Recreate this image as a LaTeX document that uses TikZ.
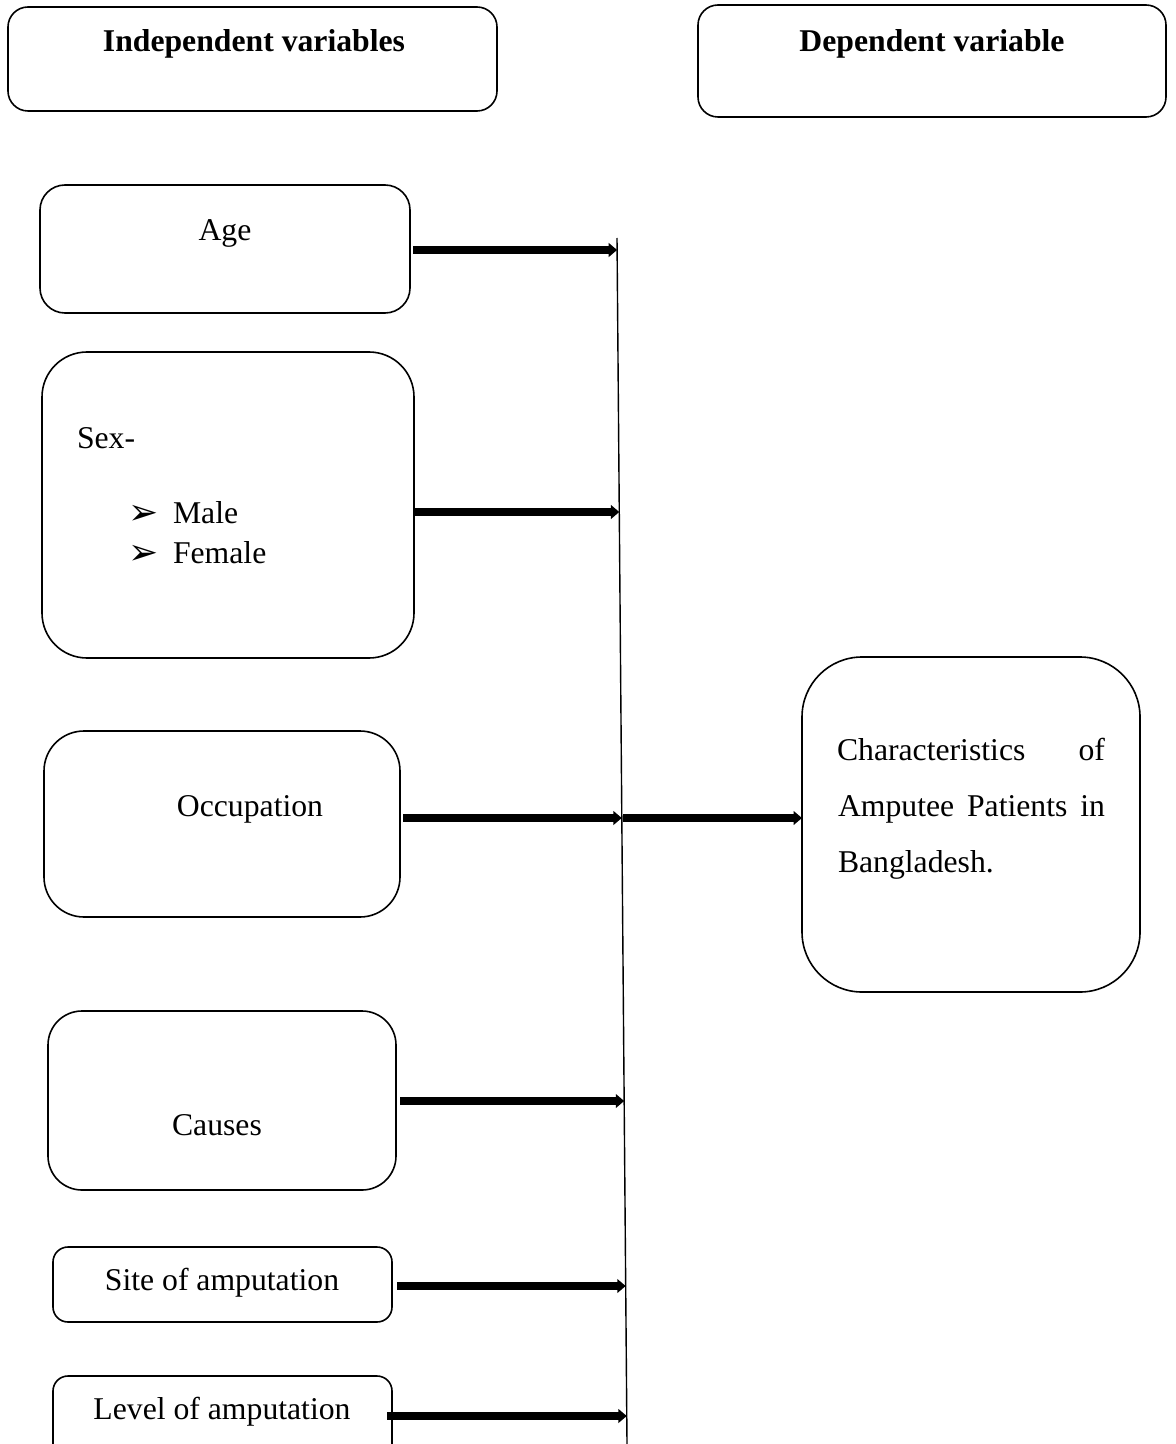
\documentclass[tikz,border=0pt]{standalone}
\usepackage{fontspec}
\setmainfont{Liberation Serif}
\newfontfamily\dingfont{DejaVu Sans}
\usetikzlibrary{arrows.meta}
\tikzset{
  vbox/.style={draw, line width=0.8pt, rectangle, inner sep=0pt, outer sep=0pt},
  txt/.style={inner sep=0pt, outer sep=0pt, anchor=base, font=\fontsize{15.85}{28}\selectfont},
  ltxt/.style={txt, anchor=base west},
  thick arrow/.style={line width=3.6pt, -{Triangle[length=4.2pt,width=6.8pt]}},
  axis line/.style={line width=0.7pt}
}
\begin{document}
\begin{tikzpicture}[x=0.5pt,y=-0.5pt]
\useasboundingbox (0,0) rectangle (1176,1444);
\clip (0,0) rectangle (1176,1444);
% header boxes
\node[vbox, rounded corners=10pt, minimum width=244.5pt, minimum height=52pt] (indep) at (252.5,59) {};
\node[vbox, rounded corners=10pt, minimum width=234pt, minimum height=56pt] (dep) at (932,61) {};
\node[txt, font=\fontsize{15.85}{28}\selectfont\bfseries] (indept) at (254,52) {Independent variables};
\node[txt, font=\fontsize{15.85}{28}\selectfont\bfseries] (dept) at (932,52) {Dependent variable};
% variable boxes
\node[vbox, rounded corners=12.5pt, minimum width=185pt, minimum height=64pt] (age) at (225,249) {};
\node[vbox, rounded corners=22.5pt, minimum width=186pt, minimum height=153pt] (sex) at (228,505) {};
\node[vbox, rounded corners=20pt, minimum width=178pt, minimum height=93pt] (occ) at (222,824) {};
\node[vbox, rounded corners=30pt, minimum width=169pt, minimum height=167.5pt] (char) at (971,824.5) {};
\node[vbox, rounded corners=17pt, minimum width=174pt, minimum height=89.5pt] (cause) at (222,1100.5) {};
\node[vbox, rounded corners=7.5pt, minimum width=169.5pt, minimum height=37.5pt] (site) at (222.5,1284.5) {};
\node[vbox, rounded corners=7.5pt, minimum width=169.5pt, minimum height=42pt] (level) at (222.5,1418) {};
% texts
\node[txt] (aget) at (225,241) {Age};
\node[ltxt] (sext) at (77,448) {Sex-};
\node[ltxt] (b1) at (128,524) {\dingfont\fontsize{18}{18}\selectfont ➢};
\node[ltxt] (malet) at (173,523) {Male};
\node[ltxt] (b2) at (128,564) {\dingfont\fontsize{18}{18}\selectfont ➢};
\node[ltxt] (femalet) at (173,563) {Female};
\node[txt] (occt) at (250,816) {Occupation};
\node[ltxt] (ch1) at (837,760) {\makebox[134pt][s]{Characteristics \hfill of}};
\node[ltxt] (ch2) at (838,816) {\makebox[133.5pt][s]{Amputee Patients in}};
\node[ltxt] (ch3) at (838,872) {Bangladesh.};
\node[txt] (causet) at (217,1135) {Causes};
\node[txt] (sitet) at (222,1290) {Site of amputation};
\node[txt] (levelt) at (222,1419) {Level of amputation};
% vertical line
\coordinate (vtop) at (617,238);
\coordinate (vbot) at (627,1444);
\draw[axis line] (vtop) -- (vbot);
\coordinate (j1) at (617.1,250);
\coordinate (j2) at (619.3,512);
\coordinate (j3) at (621.8,818);
\coordinate (j4) at (624.2,1101);
\coordinate (j5) at (625.7,1286);
\coordinate (j6) at (626.8,1416);
\coordinate (m3) at (623,818);
% arrows
\draw[thick arrow] ([xshift=1.5pt]age.east |- j1) -- (j1);
\draw[thick arrow] ([xshift=0.5pt]sex.east |- j2) -- (j2);
\draw[thick arrow] ([xshift=1.5pt]occ.east |- j3) -- (j3);
\draw[thick arrow] (m3) -- (char.west |- m3);
\draw[thick arrow] ([xshift=2pt]cause.east |- j4) -- (j4);
\draw[thick arrow] ([xshift=2.5pt]site.east |- j5) -- (j5);
\draw[thick arrow] ([xshift=-2.5pt]level.east |- j6) -- (j6);
\end{tikzpicture}
\end{document}
